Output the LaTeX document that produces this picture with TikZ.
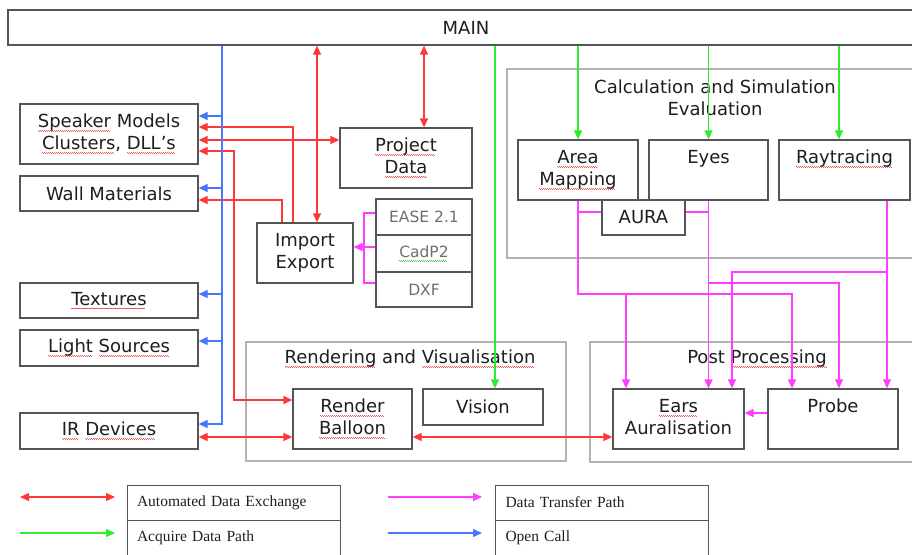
\documentclass[tikz,border=0pt]{standalone}
\usepackage{fontspec}
\setmainfont{DejaVu Sans}
\newfontfamily\legfont{Liberation Serif}
\usetikzlibrary{arrows.meta}
\definecolor{cred}{RGB}{255,55,55}
\definecolor{cgreen}{RGB}{45,235,45}
\definecolor{cmag}{RGB}{255,60,255}
\definecolor{cblue}{RGB}{70,120,255}
\definecolor{cbox}{RGB}{85,85,85}
\definecolor{cgrp}{RGB}{180,180,180}
\definecolor{ctxt}{RGB}{30,30,30}
\definecolor{cfmt}{RGB}{110,110,110}
\definecolor{sqred}{RGB}{235,90,90}
\definecolor{sqgreen}{RGB}{90,190,90}
\newsavebox\sqbox
\newcommand\sqc[2]{\leavevmode\sbox\sqbox{#2}\rlap{\color{#1}\leaders\hbox{\rule[-3.4pt]{1pt}{0.7pt}\rule[-4.1pt]{1pt}{0.7pt}}\hskip\wd\sqbox}\usebox\sqbox}
\newcommand\sq[1]{\sqc{sqred}{#1}}
\newcommand\sqg[1]{\sqc{sqgreen}{#1}}
\begin{document}
\begin{tikzpicture}[x=1pt,y=-1pt,
  box/.style={draw=cbox,line width=1.3pt,inner sep=0pt,align=center,text=ctxt,font=\fontsize{18}{22}\selectfont},
  fmt/.style={box,text=cfmt,font=\fontsize{15.5}{19}\selectfont},
  grp/.style={draw=cgrp,line width=1.2pt,inner sep=0pt},
  ttl/.style={inner sep=0pt,align=center,text=ctxt,font=\fontsize{18}{22}\selectfont},
  lcell/.style={draw=cbox,line width=1pt,inner xsep=10pt,inner ysep=0pt,text width=193pt,align=left,minimum height=35pt,text=ctxt,font=\legfont\fontsize{15.5}{18}\selectfont},
  ah/.tip={Triangle[length=9pt,width=8pt]},
  ln/.style={line width=1.3pt},
  rb/.style={ln,cred,ah-ah},
  re/.style={ln,cred,-ah},
  ge/.style={ln,cgreen,-ah},
  be/.style={ln,cblue,-ah},
  me/.style={ln,cmag,-ah},
  ml/.style={ln,cmag}]
\useasboundingbox (0,0) rectangle (912,554);
\clip (0,0) rectangle (912,554);

% groups
\node[grp,minimum width=423,minimum height=189] (calc) at (718.5,163.5) {};
\node[grp,minimum width=320,minimum height=119] (rgrp) at (406,401.5) {};
\node[grp,minimum width=340,minimum height=120] (pgrp) at (760,402) {};
\node[ttl] (calct) at (715,98) {Calculation and Simulation\\Evaluation};
\node[ttl] (rgrpt) at (410,359) {\sq{Rendering} and \sq{Visualisation}};
\node[ttl] (pgrpt) at (757,359) {Post \sq{Processing}};

% boxes
\node[box,minimum width=916,minimum height=35] (main) at (466,27.5) {MAIN};
\node[box,minimum width=178,minimum height=60] (speaker) at (109,134) {\sq{Speaker} Models\strut\\\sq{Clusters}, \sq{DLL’s}\strut};
\node[box,minimum width=178,minimum height=35] (wall) at (109,193.5) {Wall Materials};
\node[box,minimum width=178,minimum height=35] (textures) at (109,300.5) {\sq{Textures}};
\node[box,minimum width=178,minimum height=36] (light) at (109,348) {\sq{Light} \sq{Sources}};
\node[box,minimum width=178,minimum height=36] (ir) at (109,431) {\sq{IR} \sq{Devices}};
\node[box,minimum width=132,minimum height=60] (project) at (406,158) {\sq{Project}\strut\\\sq{Data}\strut};
\node[box,minimum width=96,minimum height=60] (import) at (305,253) {Import\strut\\Export\strut};
\node[fmt,minimum width=96,minimum height=36] (ease) at (424,217) {EASE 2.1};
\node[fmt,minimum width=96,minimum height=37] (cadp2) at (424,253.5) {\sqg{CadP2}};
\node[fmt,minimum width=96,minimum height=35] (dxf) at (424,289.5) {DXF};
\node[box,minimum width=120,minimum height=60] (area) at (578,170) {\sq{Area}\strut\\\sq{Mapping}\strut};
\node[box,minimum width=119,minimum height=60] (eyes) at (708.5,170) {Eyes\strut\\\strut};
\node[box,minimum width=131,minimum height=60] (ray) at (844.5,170) {\sq{Raytracing}\strut\\\strut};
\node[box,minimum width=83,minimum height=35,fill=white] (aura) at (643.5,217.5) {AURA};
\node[box,minimum width=119,minimum height=60] (render) at (352.5,419) {\sq{Render}\strut\\\sq{Balloon}\strut};
\node[box,minimum width=120,minimum height=36] (vision) at (483,407) {Vision};
\node[box,minimum width=131,minimum height=60] (ears) at (678.5,419) {\sq{Ears}\strut\\Auralisation\strut};
\node[box,minimum width=130,minimum height=60] (probe) at (833,419) {Probe\strut\\\strut};

% legend
\node[lcell] (lg1) at (233.5,502.5) {Automated Data Exchange};
\node[lcell] (lg2) at (233.5,537.5) {Acquire Data Path};
\node[lcell] (lg3) at (602,502.5) {Data Transfer Path};
\node[lcell] (lg4) at (602,537.5) {Open Call};

% helper coordinates
\coordinate (xa) at (317,0);
\coordinate (xb) at (424,0);
\coordinate (ya) at (0,140);
\coordinate (ka) at (293,127);
\coordinate (kb) at (282,200);
\coordinate (kc) at (234,151);
\coordinate (kd) at (234,400);
\coordinate (yir) at (0,437);
\coordinate (xv) at (495,0);
\coordinate (xr) at (839,0);
\coordinate (kbl) at (222,424);
\coordinate (yb1) at (0,116);
\coordinate (yb2) at (0,188);
\coordinate (yb3) at (0,294);
\coordinate (yb4) at (0,341);
\coordinate (xm) at (364,0);
\coordinate (ym1) at (0,213);
\coordinate (ym2) at (0,247);
\coordinate (ym3) at (0,283);
\coordinate (yau) at (0,212);
\coordinate (yq1) at (0,294);
\coordinate (yq2) at (0,283);
\coordinate (yq3) at (0,272);
\coordinate (ypr) at (0,413);
\coordinate (xe1) at (626,0);
\coordinate (xe3) at (732,0);
\coordinate (xp1) at (792,0);
\coordinate (xp3) at (887,0);
\coordinate (la) at (20,497);
\coordinate (lb) at (115,497);
\coordinate (lc) at (20,533);
\coordinate (ld) at (115,533);
\coordinate (le) at (388,497);
\coordinate (lf) at (482,497);
\coordinate (lgg) at (388,533);
\coordinate (lh) at (482,533);

% red
\draw[rb] (main.south -| xa) -- (import.north -| xa);
\draw[rb] (main.south -| xb) -- (project.north -| xb);
\draw[rb] (speaker.east |- ya) -- (project.west |- ya);
\draw[re] (import.north -| ka) |- (speaker.east |- ka);
\draw[re] (import.north -| kb) |- (wall.east |- kb);
\draw[rb] (speaker.east |- kc) -- (kc) -- (kd) -- (render.west |- kd);
\draw[rb] (ir.east |- yir) -- (render.west |- yir);
\draw[rb] (render.east |- yir) -- (ears.west |- yir);

% green
\draw[ge] (main.south -| xv) -- (vision.north -| xv);
\draw[ge] (main.south -| area.north) -- (area.north);
\draw[ge] (main.south -| eyes.north) -- (eyes.north);
\draw[ge] (main.south -| xr) -- (ray.north -| xr);

% blue
\draw[be] (main.south -| kbl) -- (kbl) -- (ir.east |- kbl);
\draw[be] (kbl |- yb1) -- (speaker.east |- yb1);
\draw[be] (kbl |- yb2) -- (wall.east |- yb2);
\draw[be] (kbl |- yb3) -- (textures.east |- yb3);
\draw[be] (kbl |- yb4) -- (light.east |- yb4);

% magenta
\draw[ml] (ease.west |- ym1) -| (xm |- ym3) -- (dxf.west |- ym3);
\draw[me] (cadp2.west |- ym2) -- (import.east |- ym2);
\draw[me] (area.south) |- (xp1 |- yq1) -- (probe.north -| xp1);
\draw[me] (xe1 |- yq1) -- (ears.north -| xe1);
\draw[ml] (area.south |- yau) -- (aura.west |- yau);
\draw[ml] (aura.east |- yau) -- (eyes.south |- yau);
\draw[me] (eyes.south) -- (ears.north -| eyes.south);
\draw[me] (eyes.south |- yq2) -| (probe.north -| xr);
\draw[me] (ray.south -| xp3) -- (probe.north -| xp3);
\draw[me] (xp3 |- yq3) -| (ears.north -| xe3);
\draw[me] (probe.west |- ypr) -- (ears.east |- ypr);

% legend arrows
\draw[rb] (la) -- (lb);
\draw[ge] (lc) -- (ld);
\draw[me] (le) -- (lf);
\draw[be] (lgg) -- (lh);
\end{tikzpicture}
\end{document}
